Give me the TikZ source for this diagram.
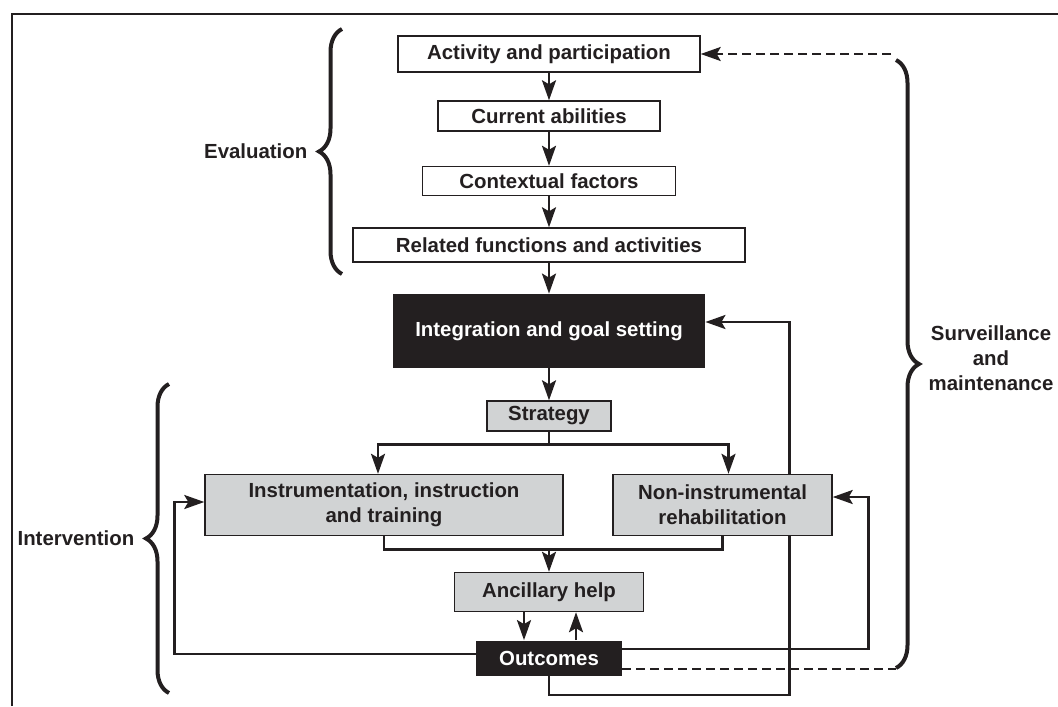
\documentclass[tikz,border=0pt]{standalone}
\usepackage{fontspec}
\setmainfont{Liberation Sans}
\usetikzlibrary{shapes,arrows.meta,decorations.pathreplacing}
\definecolor{boxgray}{RGB}{209,211,212}
\definecolor{inkblack}{RGB}{35,31,32}
\tikzstyle{stage} = [draw=inkblack, rectangle, fill=white, line width=0.7pt, inner sep=0pt, text centered, align=center, minimum height=15pt]
\tikzstyle{action} = [stage, fill=boxgray]
\tikzstyle{hub} = [rectangle, fill=inkblack, text=white, inner sep=0pt, text centered]
\tikzstyle{line} = [draw=inkblack, line width=1.3pt, -{Stealth[length=10pt,width=7pt,inset=2pt]}]
\tikzstyle{dashline} = [draw=inkblack, line width=1.3pt, dash pattern=on 4.5pt off 2.5pt]
\tikzstyle{bracket} = [draw=inkblack, line width=2pt, decorate, decoration={brace, amplitude=11.5pt}]
\pgfdeclarelayer{background}
\pgfsetlayers{background,main}

\begin{document}
\begin{tikzpicture}[x=0.5pt, y=-0.5pt, node distance=30pt, auto,
    font=\fontsize{10.2}{12.5}\selectfont\bfseries, text=inkblack]
    \useasboundingbox (0,0) rectangle (1058,706);

    % Frame
    \draw [line width=1.2pt, inkblack] (12,706) -- (12,14) -- (1058,14);

    % Place nodes
    \node [stage, minimum width=151pt, minimum height=18pt] (act) at (549,54) {Activity and participation};
    \node [stage, below of=act, node distance=31pt, minimum width=111pt] (cur) {Current abilities};
    \node [stage, below of=cur, node distance=32.5pt, minimum width=126.5pt, minimum height=14.5pt] (ctx) {Contextual factors};
    \node [stage, below of=ctx, node distance=32pt, minimum width=196pt, minimum height=17pt] (rel) {Related functions and activities};
    \node [hub, below of=rel, node distance=43pt, minimum width=156pt, minimum height=37pt] (integ) {Integration and goal setting};
    \node [action, below of=integ, node distance=42.5pt, minimum width=62pt] (strat) {Strategy};
    \node [action, below of=strat, node distance=44.5pt, xshift=-82.5pt, minimum width=179pt, minimum height=30.5pt] (instr) {Instrumentation, instruction\\and training};
    \node [action, below of=strat, node distance=44.5pt, xshift=86.75pt, minimum width=109.5pt, minimum height=30.5pt] (nonins) {Non-instrumental\\rehabilitation};
    \node [action, below of=strat, node distance=88pt, minimum width=94.5pt, minimum height=19.5pt] (anc) {Ancillary help};
    \node [hub, below of=anc, node distance=33pt, minimum width=73pt, minimum height=17.5pt] (out) {Outcomes};

    % Brace end points
    \coordinate (evalbot) at (342,274);
    \coordinate (evaltop) at (342,29);
    \coordinate (intbot) at (169,693);
    \coordinate (inttop) at (169,384);
    \coordinate (survtop) at (896,60);
    \coordinate (survbot) at (896,668);
    \coordinate (survdash) at (891,54);
    \coordinate (outdash) at ([yshift=-5.5pt]out.east);

    % Draw edges
    \path [line] (act) -- (cur);
    \path [line] (cur) -- (ctx);
    \path [line] (ctx) -- (rel);
    \path [line] (rel) -- (integ);
    \path [line] (integ) -- (strat);
    \draw [line width=1.3pt, inkblack] (strat.south) -- ++(0,-6.5pt) coordinate (fork);
    \path [line] (fork) -| ([xshift=-3pt]instr.north);
    \path [line] (fork) -| ([xshift=3pt]nonins.north);
    \draw [line width=1.3pt, inkblack] (instr.south) -- ++(0,-6.5pt) coordinate (merge) -| (nonins.south);
    \path [line] (merge -| anc.north) -- (anc.north);
    \path [line] ([xshift=-12.5pt]anc.south) -- ([xshift=-12.5pt]out.north);
    \path [line] ([xshift=13.5pt]out.north) -- ([xshift=13.5pt]anc.south);
    \path [line] ([yshift=2pt]out.west) -| ([xshift=-15pt,yshift=1.5pt]instr.west) -- ([yshift=1.5pt]instr.west);
    \path [line] ([yshift=4.5pt]out.east) -| ([xshift=18pt,yshift=4pt]nonins.east) -- ([yshift=4pt]nonins.east);
    \path [line, dashline] (survdash) -- (act.east);
    \path [dashline] (outdash) -- (outdash -| survbot);

    % Braces and their labels
    \draw [bracket] (evalbot) -- (evaltop) node [midway, left=13pt] {Evaluation};
    \draw [bracket] (intbot) -- (inttop) node [midway, left=13pt] {Intervention};
    \draw [bracket] (survtop) -- (survbot) node [midway, right=12pt, yshift=3pt, align=center] {Surveillance\\and\\maintenance};

    % The feedback loop runs behind the rehabilitation box
    \begin{pgfonlayer}{background}
      \path [line] (out.south) -- ++(0,-9.5pt) -| ([xshift=42pt,yshift=4.5pt]integ.east) -- ([yshift=4.5pt]integ.east);
    \end{pgfonlayer}
\end{tikzpicture}
\end{document}
